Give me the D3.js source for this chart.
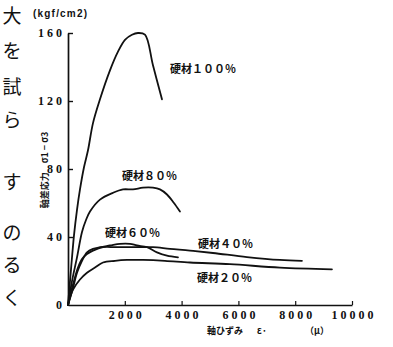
<!DOCTYPE html>
<html>
<head>
<meta charset="utf-8">
<script src="https://cdn.jsdelivr.net/npm/d3@7"></script>
<style>
  body { margin: 0; background: #fff; }
  text { fill: #111; }
</style>
</head>
<body>
<div id="chart"></div>
<script>
// data (strain in μ, stress in kgf/cm2)
const strain100 = [0, 106, 211, 317, 422, 563, 704, 880, 1126, 1478, 1760, 2006, 2253, 2464, 2710, 2992, 3309];
const stress100 = [0, 21, 41, 56, 68, 81, 91, 107, 121, 138, 149, 156, 159, 160, 159, 141, 121];

const strain80 = [0, 141, 317, 493, 634, 774, 1126, 1584, 1936, 2288, 2640, 2992, 3238, 3485, 3731, 3942];
const stress80 = [0, 14, 28, 43, 50, 55, 62, 66, 68, 68, 69, 69, 68, 65, 60, 55];

const strain60 = [0, 176, 317, 493, 669, 880, 1126, 1478, 1830, 2182, 2429, 2781, 3133, 3485, 3872];
const stress60 = [0, 10, 19, 26, 31, 33, 34, 35, 36, 36, 35, 34, 31, 29, 28];

const strain40 = [0, 176, 352, 493, 669, 880, 1232, 1654, 2077, 2534, 2992, 3590, 4294, 5104, 6301, 7462, 8237];
const stress40 = [0, 12, 22, 27, 30, 32, 34, 34, 34, 34, 34, 33, 32, 30.6, 28.2, 26.5, 26];

const strain20 = [0, 176, 422, 669, 950, 1232, 1654, 2077, 2640, 3414, 4294, 5702, 7462, 9293];
const stress20 = [0, 9, 15, 19, 22, 25, 26, 26.5, 26.5, 26, 25, 24, 22, 21];

const seriesNames = ["硬材１００％", "硬材８０％", "硬材６０％", "硬材４０％", "硬材２０％"];
const xTicks = [2000, 4000, 6000, 8000, 10000];
const yTicks = [0, 40, 80, 120, 160];
// text of the neighbouring page column on the left
const pageChars = ["大", "を", "試", "ら", "す", "の", "る", "く"];

const width = 393, height = 347;

const svg = d3.select("#chart")
  .append("svg")
  .attr("width", width)
  .attr("height", height);

// scales
const x = d3.scaleLinear().domain([0, 10000]).range([68, 352]);
const y = d3.scaleLinear().domain([0, 160]).range([305, 33]);

const series = [
  { name: seriesNames[0], xs: strain100, ys: stress100, lx: 170, ly: 73 },
  { name: seriesNames[1], xs: strain80, ys: stress80, lx: 122, ly: 180 },
  { name: seriesNames[2], xs: strain60, ys: stress60, lx: 105, ly: 237 },
  { name: seriesNames[3], xs: strain40, ys: stress40, lx: 198, ly: 248 },
  { name: seriesNames[4], xs: strain20, ys: stress20, lx: 197, ly: 282 }
].map(s => ({ ...s, values: s.xs.map((v, i) => ({ strain: v, stress: s.ys[i] })) }));

// page text column on the far left
svg.append("g")
  .selectAll("text")
  .data(pageChars)
  .join("text")
  .attr("x", 12)
  .attr("y", (d, i) => [23, 58, 94, 127, 189, 240, 272, 305][i])
  .attr("text-anchor", "middle")
  .attr("font-family", "Noto Sans CJK JP")
  .attr("font-size", 19)
  .text(d => d);

// axes
const yAxis = d3.axisLeft(y)
  .tickValues(yTicks)
  .tickSize(-5)
  .tickSizeOuter(0)
  .tickPadding(3)
  .tickFormat(d3.format("d"));

const gy = svg.append("g")
  .attr("transform", `translate(${x(0)},0)`)
  .call(yAxis);

gy.select(".domain").attr("stroke", "#111").attr("stroke-width", 1.7);
gy.selectAll(".tick line").attr("stroke", "#111").attr("stroke-width", 1.4);
gy.selectAll(".tick").filter(d => d === 0).select("line").remove();
gy.selectAll(".tick text")
  .attr("font-family", "Liberation Serif")
  .attr("font-weight", "bold")
  .attr("font-size", 12)
  .attr("letter-spacing", 3)
  .attr("fill", "#111");

const xAxis = d3.axisBottom(x)
  .tickValues(xTicks)
  .tickSize(-4)
  .tickSizeOuter(0)
  .tickPadding(5)
  .tickFormat(d3.format("d"));

const gx = svg.append("g")
  .attr("transform", `translate(0,${y(0)})`)
  .call(xAxis);

gx.select(".domain").attr("stroke", "#111").attr("stroke-width", 1.7);
gx.selectAll(".tick line").attr("stroke", "#111").attr("stroke-width", 1.2);
gx.selectAll(".tick text")
  .attr("font-family", "Liberation Serif")
  .attr("font-weight", "bold")
  .attr("font-size", 12)
  .attr("letter-spacing", 3)
  .attr("dx", "1.5")
  .attr("fill", "#111");

// unit label
svg.append("text")
  .attr("x", 33)
  .attr("y", 17)
  .attr("font-family", "Liberation Sans")
  .attr("font-weight", "bold")
  .attr("font-size", 10)
  .attr("letter-spacing", 1.2)
  .text("(kgf/cm2)");

// y title, vertical
svg.append("text")
  .attr("transform", `translate(48,170) rotate(-90)`)
  .attr("text-anchor", "middle")
  .attr("font-family", "Noto Sans CJK JP")
  .attr("font-weight", "bold")
  .attr("font-size", 9)
  .text("軸差応力　σ1 − σ3");

// x title
const xt = svg.append("text")
  .attr("y", 334)
  .attr("font-family", "Noto Sans CJK JP")
  .attr("font-weight", "bold")
  .attr("font-size", 9);
xt.append("tspan").attr("x", 207).text("軸ひずみ");
xt.append("tspan").attr("x", 257).text("ε·");
xt.append("tspan").attr("x", 305).text("（μ）");

// curves
const line = d3.line()
  .x(d => x(d.strain))
  .y(d => y(d.stress))
  .curve(d3.curveCatmullRom.alpha(0.5));

svg.selectAll(".line")
  .data(series)
  .join("path")
  .attr("class", "line")
  .attr("fill", "none")
  .attr("stroke", "#111")
  .attr("stroke-width", 1.8)
  .attr("stroke-linecap", "round")
  .attr("stroke-linejoin", "round")
  .attr("d", d => line(d.values));

// curve labels
svg.selectAll(".label")
  .data(series)
  .join("text")
  .attr("class", "label")
  .attr("x", d => d.lx)
  .attr("y", d => d.ly)
  .attr("font-family", "Noto Sans CJK JP")
  .attr("font-weight", "bold")
  .attr("font-size", 11)
  .text(d => d.name);
</script>
</body>
</html>
